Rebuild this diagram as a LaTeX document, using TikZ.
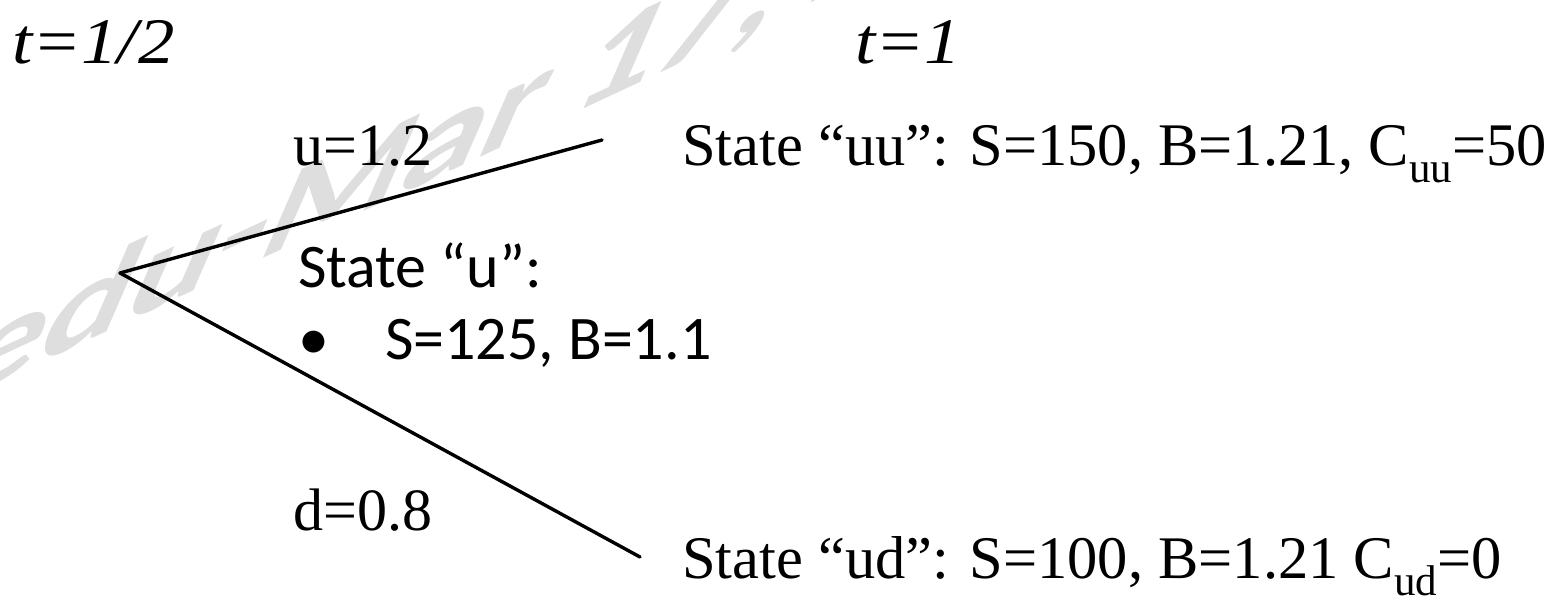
\documentclass[tikz,border=0pt]{standalone}
\usepackage{fontspec}
\setmainfont{Liberation Serif}
\newfontfamily\calfont{Carlito}
\newcommand\subtxt[1]{\raisebox{-17pt}{\fontsize{43}{43}\selectfont #1}}
\begin{document}
\begin{tikzpicture}[x=1pt,y=-1pt,
  txt/.style={inner sep=0pt, anchor=base west},
  title/.style={txt, font=\fontsize{65}{72}\selectfont\itshape},
  lbl/.style={txt, font=\fontsize{60}{70}\selectfont},
  state/.style={txt, font=\fontsize{60.5}{70}\selectfont},
  sans/.style={txt, font=\fontsize{62}{72}\selectfont\calfont},
  branch/.style={line width=3.4pt, line cap=round, line join=round},
  wm/.style={txt, text=black!13, font=\fontsize{150}{160}\selectfont\calfont\bfseries}]
\useasboundingbox (0,0) rectangle (1563,608);
% watermark
\begin{scope}
  \clip (0,0) rectangle (1563,608);
  \begin{scope}[shift={(-50,405)}, cm={1.07,0.50,0.40,0.917,(0,0)}]
    \node[wm, transform shape] (wmark) at (0,0) {edu-Mar 17, 20};
  \end{scope}
\end{scope}
% time labels
\node[title] (t0) at (12,63) {\scalebox{1.12}[1]{t=1/2}};
\node[title] (t1) at (855,63) {\scalebox{1.12}[1]{t=1}};
% tree
\coordinate (v) at (120,273);
\coordinate (uuEnd) at (602,140);
\coordinate (udEnd) at (640,557);
\draw[branch] (v) -- (uuEnd);
\draw[branch] (v) -- (udEnd);
% labels
\node[lbl] (lu) at (293,165) {u=1.2};
\node[lbl] (ld) at (293,530) {d=0.8};
\node[state] (suu) at (682,165) {State “uu”: S=150, B=1.21, C\subtxt{uu}=50};
\node[state] (sud) at (682,578) {State “ud”: S=100, B=1.21 C\subtxt{ud}=0};
\node[sans] (su) at (298,287) {State “u”:};
\node[sans] (bul) at (298,359) {•};
\node[sans] (sb) at (385,359) {S=125, B=1.1};
\end{tikzpicture}
\end{document}
